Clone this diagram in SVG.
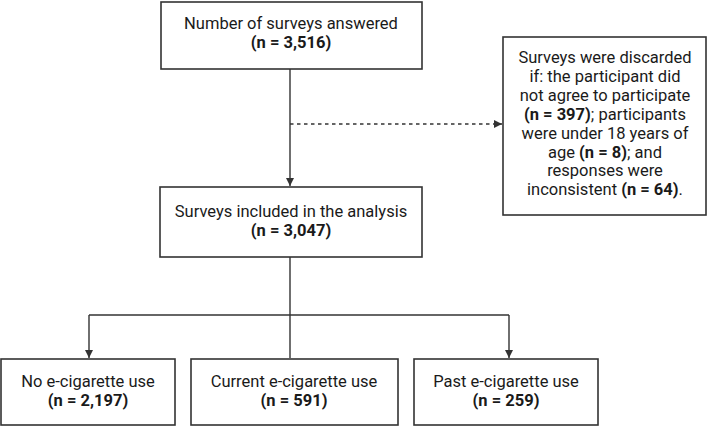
<svg xmlns="http://www.w3.org/2000/svg" width="708" height="427" viewBox="0 0 708 427">
<defs>
<marker id="ah" viewBox="0 0 10 10" refX="10" refY="5" markerWidth="8" markerHeight="8" markerUnits="userSpaceOnUse" orient="auto">
<path d="M0,0 L10,5 L0,10 z" fill="#333"/>
</marker>
</defs>
<style>
.box{fill:#fff;stroke:#333;stroke-width:1.6}
.t{font-family:Roboto,"Liberation Sans",sans-serif;font-size:16.5px;fill:#1a1a1a;text-anchor:middle}
.b{font-weight:bold}
.ln{fill:none;stroke:#333;stroke-width:1.4}
.dash{stroke-dasharray:3.5,3.5}
</style>
<rect width="708" height="427" fill="#fff"/>
<g id="connectors">
<path class="ln" d="M290,69 V186" marker-end="url(#ah)"/>
<path class="ln dash" d="M290,124 H502" marker-end="url(#ah)"/>
<path class="ln" d="M290,257 V358"/>
<path class="ln" d="M89,315 H509"/>
<path class="ln" d="M89,315 V358" marker-end="url(#ah)"/>
<path class="ln" d="M509,315 V358" marker-end="url(#ah)"/>
</g>
<g id="answered">
<rect class="box" x="161" y="2" width="261" height="67"/>
<text class="t" x="291" y="29">Number of surveys answered</text>
<text class="t b" x="291" y="48">(n = 3,516)</text>
</g>
<g id="discarded">
<rect class="box" x="503" y="37" width="203" height="178"/>
<text class="t" x="605" y="63">Surveys were discarded</text>
<text class="t" x="605" y="82">if: the participant did</text>
<text class="t" x="605" y="101">not agree to participate</text>
<text class="t" x="605" y="120"><tspan class="b">(n = 397)</tspan>; participants</text>
<text class="t" x="605" y="139">were under 18 years of</text>
<text class="t" x="605" y="158">age <tspan class="b">(n = 8)</tspan>; and</text>
<text class="t" x="605" y="176">responses were</text>
<text class="t" x="605" y="195">inconsistent <tspan class="b">(n = 64)</tspan>.</text>
</g>
<g id="included">
<rect class="box" x="160" y="187" width="262" height="70"/>
<text class="t" x="291" y="217">Surveys included in the analysis</text>
<text class="t b" x="291" y="236">(n = 3,047)</text>
</g>
<g id="no-use">
<rect class="box" x="1" y="359" width="174" height="66"/>
<text class="t" x="88" y="387">No e-cigarette use</text>
<text class="t b" x="88" y="406">(n = 2,197)</text>
</g>
<g id="current-use">
<rect class="box" x="191" y="359" width="207" height="66"/>
<text class="t" x="294" y="387">Current e-cigarette use</text>
<text class="t b" x="294" y="406">(n = 591)</text>
</g>
<g id="past-use">
<rect class="box" x="414" y="359" width="184" height="66"/>
<text class="t" x="506" y="387">Past e-cigarette use</text>
<text class="t b" x="506" y="406">(n = 259)</text>
</g>
</svg>
